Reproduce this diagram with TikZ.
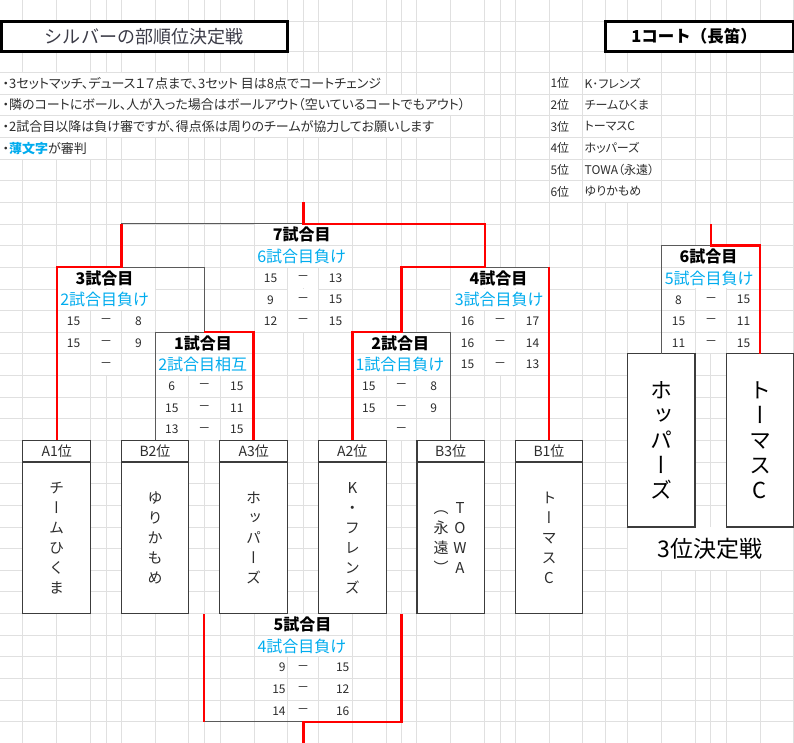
\documentclass[tikz,border=0pt]{standalone}
\usepackage{fontspec}
\setmainfont{Noto Sans CJK JP}[RawFeature=+palt]
\newfontfamily\jpfix{Noto Sans CJK JP}
\newfontfamily\jpvert{Noto Sans CJK JP}[RawFeature=+vert]
\definecolor{gridc}{RGB}{224,224,224}
\definecolor{brk}{RGB}{90,90,90}
\definecolor{boxc}{RGB}{60,60,60}
\definecolor{txt}{RGB}{45,45,45}
\definecolor{cyanx}{RGB}{0,172,238}
\definecolor{titlec}{RGB}{60,60,72}
\definecolor{redx}{RGB}{255,0,0}
\newcommand\hc[3]{\fill[white] ({#1+0.5},{72.5+21.64*(#3)+0.5}) rectangle ({#2-0.5},{72.5+21.64*(#3+1)-0.5});}
\newcommand\scrow[5]{%
  \node[score] (#1l) at ({#3-32.5},#2) {#4};
  \node[score] (#1d) at (#3,#2) {－};
  \node[score] (#1r) at ({#3+32.5},#2) {#5};}
\begin{document}
\begin{tikzpicture}[x=1bp,y=-1bp,
 gline/.style={draw=gridc,line width=0.8bp},
 bline/.style={draw=brk,line width=1bp},
 rline/.style={draw=redx,line width=2.4bp},
 rule/.style={anchor=west,inner sep=0,font=\fontsize{13bp}{15bp}\selectfont,text=txt},
 rank/.style={anchor=west,inner sep=0,font=\fontsize{12bp}{14bp}\selectfont,text=txt},
 mtitle/.style={inner sep=0,font=\fontsize{16bp}{18bp}\selectfont\bfseries,text=black},
 msub/.style={inner sep=0,font=\fontsize{16bp}{18bp}\selectfont,text=cyanx},
 score/.style={inner sep=0,font=\fontsize{12bp}{14bp}\selectfont,text=txt},
 thead/.style={draw=boxc,line width=1.2bp,fill=white,minimum width=67.6bp,minimum height=21.64bp,inner sep=0,outer sep=0,font=\fontsize{14bp}{16bp}\selectfont,text=txt},
 tbody/.style={draw=boxc,line width=1.2bp,fill=white,minimum width=67.6bp,minimum height=151.48bp,inner sep=0,outer sep=0},
 bbox/.style={draw=boxc,line width=1.2bp,fill=white,minimum width=67.4bp,minimum height=173.12bp,inner sep=0,outer sep=0},
 vch/.style={inner sep=0,font=\fontsize{15bp}{15bp}\jpvert,text=txt,text height=13.2bp,text depth=1.8bp},
 bigv/.style={inner sep=0,font=\fontsize{22bp}{22bp}\jpvert,text=black,text height=19.36bp,text depth=2.64bp},
]
\useasboundingbox (0,0) rectangle (794,743);
\fill[white] (0,0) rectangle (794,743);
% ---------- spreadsheet grid ----------
\foreach \yy in {21.7,51.7} {\draw[gline] (0,\yy) -- (794,\yy);}
\foreach \k in {0,...,31} {\draw[gline] (0,{72.5+21.64*\k}) -- (794,{72.5+21.64*\k});}
\foreach \xx in {22.7,56.7,90.7,106,121.3,155.3,188.7,204,220,254,287.3,303.3,318.7,352.7,386,401.3,416.7,450.7,484.7,500,515.3,549.3,582.7,605.3,627.3,661.3,695.3,710.7,726.7,760.7,793.3}
  {\draw[gline] (\xx,0) -- (\xx,743.4);}
% ---------- hidden grid under text / merged cells ----------
\hc{-2}{380}{0} \hc{-2}{460}{1} \hc{-2}{440}{2} \hc{-2}{95}{3}
\foreach \k in {0,...,5}{\hc{582.7}{661.3}{\k}}
\foreach \k in {7,8}{\hc{254}{352.7}{\k}}
\foreach \k in {9,10}{\hc{56.7}{155.3}{\k}}
\foreach \k in {12,13}{\hc{155.3}{254}{\k}}
\foreach \k in {12,13}{\hc{352.7}{450.7}{\k}}
\foreach \k in {9,10}{\hc{450.7}{549.3}{\k}}
\foreach \k in {8,9}{\hc{661.3}{760.7}{\k}}
\foreach \k in {25,26}{\hc{254}{352.7}{\k}}
\foreach \k in {9,10,11}{\hc{287.3}{318.7}{\k}}
\foreach \k in {11,12,13}{\hc{90.7}{121.3}{\k}}
\foreach \k in {14,15,16}{\hc{188.7}{220}{\k}}
\foreach \k in {14,15,16}{\hc{386}{416.7}{\k}}
\foreach \k in {11,12,13}{\hc{484.7}{515.3}{\k}}
\foreach \k in {10,11,12}{\hc{695.3}{726.7}{\k}}
\foreach \k in {27,28,29}{\hc{287.3}{318.7}{\k}}
\fill[white] (627.8,527.44) rectangle (792.8,569.72);
% ---------- title boxes ----------
\node[draw=black,line width=3bp,fill=white,minimum width=285.3bp,minimum height=30bp,inner sep=0] (tbox) at (144.65,36.7) {};
\node[font=\fontsize{18bp}{20bp}\jpfix,text=titlec,inner sep=0] (ttext) at (144,36.7) {シルバーの部順位決定戦};
\node[draw=black,line width=3bp,fill=white,minimum width=188bp,minimum height=30bp,inner sep=0] (cbox) at (699.3,36.7) {};
\node[font=\fontsize{16.5bp}{18bp}\jpfix\bfseries,inner sep=0] (ctext) at (694.2,36.7) {1コート（長笛）};
% ---------- rules ----------
\node[rule] (r1) at (2.5,83.32) {・3セットマッチ、デュース１７点まで、3セット 目は8点でコートチェンジ};
\node[rule] (r2) at (2.5,104.96) {・隣のコートにボール、人が入った場合はボールアウト（空いているコートでもアウト）};
\node[rule] (r3) at (2.5,126.6) {・2試合目以降は負け審ですが、得点係は周りのチームが協力してお願いします};
\node[rule] (r4) at (2.5,148.24) {・\textcolor{cyanx}{\bfseries 薄文字}が審判};
% ---------- ranking ----------
\foreach \rn/\nm [count=\i from 0] in {1/K･フレンズ,2/チームひくま,3/トーマスC,4/ホッパーズ,5/TOWA（永遠）,6/ゆりかもめ}
 {\node[rank] (rk\i) at (550.3,{83.32+21.64*\i}) {{\rn}位};
  \node[rank] (rn\i) at (584.5,{83.32+21.64*\i}) {{\nm}};}
% ---------- team boxes ----------
\node[thead] (A1h) at (56.7,451.2) {A1位};
\node[thead] (B2h) at (155,451.2) {B2位};
\node[thead] (A3h) at (253.65,451.2) {A3位};
\node[thead] (A2h) at (352.35,451.2) {A2位};
\node[thead] (B3h) at (450.7,451.2) {B3位};
\node[thead] (B1h) at (549,451.2) {B1位};
\node[tbody] (A1b) at (56.7,537.76) {};
\node[tbody] (B2b) at (155,537.76) {};
\node[tbody] (A3b) at (253.65,537.76) {};
\node[tbody] (A2b) at (352.35,537.76) {};
\node[tbody] (B3b) at (450.7,537.76) {};
\node[tbody] (B1b) at (549,537.76) {};
\node[bbox] (L3) at (661.3,440.38) {};
\node[bbox] (R3) at (760,440.38) {};
% ---------- bracket points ----------
\coordinate (top7) at (303.3,202.34);
\coordinate (m7) at (303.3,223.98);
\coordinate (m7L) at (121.3,223.98);
\coordinate (m7R) at (484.7,223.98);
\coordinate (m3) at (121.3,267.26);
\coordinate (m3R) at (204,267.26);
\coordinate (m1) at (204,332.18);
\coordinate (m4) at (484.7,267.26);
\coordinate (m4L) at (401.3,267.26);
\coordinate (m2) at (401.3,332.18);
\coordinate (top6) at (710.7,223.98);
\coordinate (m6) at (710.7,245.62);
\coordinate (m5L) at (204,721.7);
\coordinate (m5) at (303.3,721.7);
\coordinate (m5R) at (401.3,721.7);
\coordinate (bot5) at (303.3,743.6);
% gray bracket lines
\draw[bline] (m7L) -- (m7);
\draw[bline] (m3) -- (m3R) -- (m1);
\draw[bline] (B2h.north) |- (m1);
\draw[bline] (m4) -- (B1h.north |- m4);
\draw[bline] (m2) -| (B3h.north);
\draw[bline] (L3.north) |- (m6);
\draw[bline] (m5L) -- (m5);
% red lines
\draw[rline] (A1h.north) |- (m3) -- (m7L);
\draw[rline] (top7) -- (m7) -- (m7R) -- (m4) -- (m4L) -- (m2) -| (A2h.north);
\draw[rline] (m1) -| (A3h.north);
\draw[rline] (B1h.north |- m4) -- (B1h.north);
\draw[rline] (top6) -- (m6) -| (R3.north);
\draw[rline] (m5L |- A3b.south) -- (m5L);
\draw[rline] (bot5) -- (m5) -- (m5R) -- (m5R |- A2b.south);
% ---------- match labels ----------
\node[mtitle] (t7) at (301.8,234.8) {7試合目};
\node[msub] (s7) at (301.5,256.44) {6試合目負け};
\scrow{g7a}{278.08}{303}{15}{13}
\scrow{g7b}{299.72}{303}{9}{15}
\scrow{g7c}{321.36}{303}{12}{15}
\node[mtitle] (t3) at (104.5,278.08) {3試合目};
\node[msub] (s3) at (104.5,299.72) {2試合目負け};
\scrow{g3a}{321.36}{106}{15}{8}
\scrow{g3b}{343.0}{106}{15}{9}
\scrow{g3c}{364.64}{106}{}{}
\node[mtitle] (t1) at (203,343.0) {1試合目};
\node[msub] (s1) at (202.8,364.64) {2試合目相互};
\scrow{g1a}{386.28}{204.3}{6}{15}
\scrow{g1b}{407.92}{204.3}{15}{11}
\scrow{g1c}{429.56}{204.3}{13}{15}
\node[mtitle] (t2) at (400.2,343.0) {2試合目};
\node[msub] (s2) at (399.8,364.64) {1試合目負け};
\scrow{g2a}{386.28}{401.3}{15}{8}
\scrow{g2b}{407.92}{401.3}{15}{9}
\scrow{g2c}{429.56}{401.3}{}{}
\node[mtitle] (t4) at (498.5,278.08) {4試合目};
\node[msub] (s4) at (499,299.72) {3試合目負け};
\scrow{g4a}{321.36}{500}{16}{17}
\scrow{g4b}{343.0}{500}{16}{14}
\scrow{g4c}{364.64}{500}{15}{13}
\node[mtitle] (t6) at (708.5,256.44) {6試合目};
\node[msub] (s6) at (709,278.08) {5試合目負け};
\scrow{g6a}{299.72}{711}{8}{15}
\scrow{g6b}{321.36}{711}{15}{11}
\scrow{g6c}{343.0}{711}{11}{15}
\node[mtitle] (t5) at (302.5,624.32) {5試合目};
\node[msub] (s5) at (301.8,645.96) {4試合目負け};
\foreach \sa/\sb [count=\i from 0] in {9/15,15/12,14/16}
 {\node[score,anchor=east] (g5l\i) at (285.8,{667.6+21.64*\i}) {\sa};
  \node[score] (g5d\i) at (303,{667.6+21.64*\i}) {－};
  \node[score,anchor=east] (g5r\i) at (349.6,{667.6+21.64*\i}) {\sb};}
% ---------- vertical team names ----------
\foreach \c [count=\i] in {チ,ー,ム,ひ,く,ま} {\node[vch] (na\i) at (56.7,{537.76+(\i-3.5)*20}) {\c};}
\foreach \c [count=\i] in {ゆ,り,か,も,め} {\node[vch] (nb\i) at (155,{537.76+(\i-3)*20}) {\c};}
\foreach \c [count=\i] in {ホ,ッ,パ,ー,ズ} {\node[vch] (nc\i) at (253.65,{537.76+(\i-3)*20}) {\c};}
\foreach \c [count=\i] in {K,・,フ,レ,ン,ズ} {\node[vch] (nd\i) at (352.35,{537.76+(\i-3.5)*20}) {\c};}
\foreach \c [count=\i] in {T,O,W,A} {\node[vch] (ne\i) at (460,{537.76+(\i-2.5)*20}) {\c};}
\foreach \c [count=\i] in {（,永,遠,）} {\node[vch] (nf\i) at (441,{537.76+(\i-2.5)*20}) {\c};}
\foreach \c [count=\i] in {ト,ー,マ,ス,C} {\node[vch] (ng\i) at (549,{537.76+(\i-3)*20}) {\c};}
\foreach \c [count=\i] in {ホ,ッ,パ,ー,ズ} {\node[bigv] (nh\i) at (661.3,{440.38+(\i-3)*25}) {\c};}
\foreach \c [count=\i] in {ト,ー,マ,ス,C} {\node[bigv] (ni\i) at (760,{440.38+(\i-3)*25}) {\c};}
\node[inner sep=0,font=\fontsize{23bp}{25bp}\jpfix,text=black] (third) at (710.3,548.58) {3位決定戦};
\end{tikzpicture}
\end{document}
